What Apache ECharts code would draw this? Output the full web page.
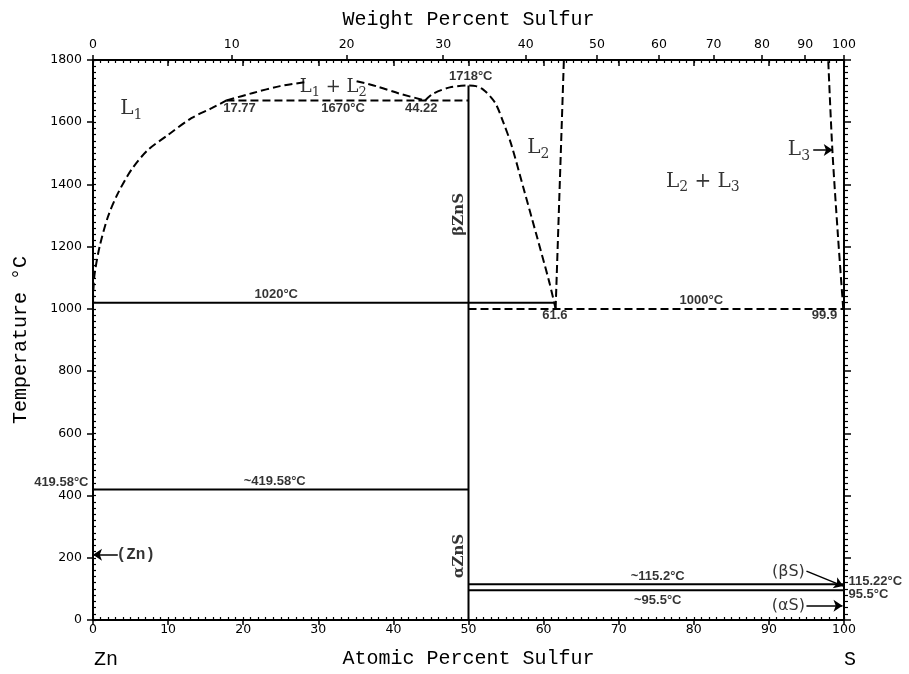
<!DOCTYPE html>
<html><head><meta charset="utf-8">
<script src="https://cdn.jsdelivr.net/npm/echarts@6/dist/echarts.min.js"></script>
<style>html,body{margin:0;padding:0;background:#fff}#c{width:909px;height:674px}</style>
</head><body><div id="c"></div>
<script>
// ---- values (x = atomic % S, y = temperature °C) ----
const weightTicks = [0, 10, 20, 30, 40, 50, 60, 70, 80, 90, 100];
const liquidusL1 = [[0,1020],[0.05,1062],[0.23,1115],[0.89,1201],[2.0,1297],[3.33,1372],[5.11,1447],[7.32,1511],[9.99,1559],[13.1,1613],[15.8,1645],[17.77,1670]];
const gapLeft = [[17.77,1670],[21.3,1694],[24.9,1716],[28.6,1730]];
const gapRight = [[35.1,1732],[37.7,1716],[40.8,1692],[44.22,1670]];
const liquidusL2 = [[44.22,1670],[45.3,1692],[47.5,1712],[50,1718],[51,1716],[52,1704],[53,1680],[53.7,1656],[54.6,1602],[55.7,1528],[57.3,1390],[59,1242],[60.8,1082],[61.6,1000]];
const boundaryL2 = [[61.6,1000],[62.7,1800]];
const boundaryL3 = [[99.9,1000],[99.2,1233],[98.45,1511],[97.9,1800]];
const monotectic1670 = [[17.77,1670],[50,1670]];
const monotectic1020 = [[0,1020],[61.4,1020]];
const monotectic1000 = [[50,1000],[100,1000]];
const eutectic419 = [[0,419.58],[50,419.58]];
const line115 = [[50,115.2],[100,115.2]];
const line95 = [[50,95.5],[100,95.5]];
const znsLine = [[50,0],[50,1718]];
const arrows = [[[3.3,210],[0,210]], [[95.0,157],[99.9,109]], [[95.0,46],[99.8,46]], [[95.9,1511],[98.5,1511]]];
const valueLabels = [
  ['17.77', 19.5, 1645], ['1670°C', 33.3, 1645], ['44.22', 43.7, 1645], ['1718°C', 50.3, 1748],
  ['1020°C', 24.4, 1047], ['61.6', 61.5, 978], ['1000°C', 81.0, 1026], ['99.9', 97.4, 978],
  ['~419.58°C', 24.2, 447], ['~115.2°C', 75.2, 139], ['~95.5°C', 75.2, 64]
];
const leftEdgeLabels = [['419.58°C', 0, 441]];
const rightEdgeLabels = [['115.22°C', 100, 123], ['95.5°C', 100, 83]];
const regionLabels = [['L1', 5.1, 1642], ['L2', 59.3, 1517], ['L2 + L3', 81.2, 1409], ['L3', 94.0, 1511]];
const smallRegionLabels = [['L1 + L2', 32.0, 1712]];
const phaseLabels = [['βZnS', 48.7, 1304], ['αZnS', 48.7, 206]];
const znLabels = [['(Zn)', 5.7, 210]];
const sideLabels = [['(βS)', 92.6, 154], ['(αS)', 92.6, 46]];

// ---- conversion weight % -> atomic % for the top axis ----
const M_S = 32.06, M_ZN = 65.38;
const wToA = w => (w / M_S) / (w / M_S + (100 - w) / M_ZN) * 100;
const aToW = a => (a * M_S) / (a * M_S + (100 - a) * M_ZN) * 100;
const weightPositions = weightTicks.map(wToA);

const black = '#000';
const tickFont = {fontFamily: 'DejaVu Sans', fontSize: 12.5, color: black};
const monoName = {fontFamily: 'Liberation Mono', fontSize: 20, color: black};

function lineSeries(data, dashed, smooth) {
  return {type: 'line', data: data, symbol: 'none', silent: true, animation: false,
    smooth: smooth ? 0.3 : false,
    lineStyle: {color: black, width: 2, type: dashed ? [8, 4] : 'solid'}, z: 3};
}
function toRich(t) {
  return t.split(/(L\d)/).filter(s => s).map(s => /^L\d$/.test(s) ? '{m|L}{s|' + s[1] + '}' : '{m|' + s + '}').join('');
}
function labelSeries(list, label, fmt) {
  return {type: 'scatter', symbolSize: 1, clip: false, silent: true, animation: false, z: 5,
    itemStyle: {color: 'transparent'},
    data: list.map(d => ({name: d[0], value: [d[1], d[2]]})),
    label: Object.assign({show: true, position: 'inside', color: black, textBorderWidth: 0,
      formatter: p => fmt ? fmt(p.name) : p.name}, label)};
}

const baseAxis = {type: 'value', min: 0, max: 100, splitLine: {show: false}};
const option = {
  backgroundColor: '#fff',
  grid: {left: 93, right: 65, top: 60, bottom: 52},
  xAxis: [
    Object.assign({}, baseAxis, {position: 'bottom', interval: 10,
      name: 'Atomic Percent Sulfur', nameLocation: 'middle', nameGap: 29, nameTextStyle: monoName,
      axisLine: {onZero: false, lineStyle: {color: black, width: 2}},
      axisTick: {inside: false, length: 5, lineStyle: {color: black, width: 1.5}},
      axisLabel: Object.assign({margin: 3}, tickFont)}),
    Object.assign({}, baseAxis, {position: 'bottom', interval: 1,
      axisLine: {show: false, onZero: false}, axisLabel: {show: false},
      axisTick: {inside: true, length: 3, lineStyle: {color: black, width: 1.2}}}),
    Object.assign({}, baseAxis, {position: 'top', interval: 1,
      axisLine: {show: true, onZero: false, lineStyle: {color: black, width: 2}}, axisLabel: {show: false},
      axisTick: {inside: true, length: 3, lineStyle: {color: black, width: 1.2}}}),
    Object.assign({}, baseAxis, {position: 'top', interval: 10,
      axisLine: {show: false, onZero: false}, axisLabel: {show: false},
      axisTick: {inside: true, length: 6, lineStyle: {color: black, width: 1.5}}}),
    Object.assign({}, baseAxis, {position: 'top',
      name: 'Weight Percent Sulfur', nameLocation: 'middle', nameGap: 30, nameTextStyle: monoName,
      axisLine: {show: false, onZero: false},
      axisTick: {inside: false, length: 5, customValues: weightPositions, lineStyle: {color: black, width: 1.5}},
      axisLabel: Object.assign({margin: 9, customValues: weightPositions,
        formatter: v => String(Math.round(aToW(v)))}, tickFont)})
  ],
  yAxis: [
    {type: 'value', position: 'left', min: 0, max: 1800, interval: 200, splitLine: {show: false},
      name: 'Temperature °C', nameLocation: 'middle', nameGap: 62, nameTextStyle: monoName,
      axisLine: {onZero: false, lineStyle: {color: black, width: 2}},
      axisTick: {inside: false, length: 6, lineStyle: {color: black, width: 1.5}},
      axisLabel: Object.assign({margin: 11, formatter: v => String(v)}, tickFont)},
    {type: 'value', position: 'left', min: 0, max: 1800, interval: 20, splitLine: {show: false},
      axisLine: {show: false, onZero: false}, axisLabel: {show: false},
      axisTick: {inside: true, length: 3, lineStyle: {color: black, width: 1.2}}},
    {type: 'value', position: 'right', min: 0, max: 1800, interval: 200, splitLine: {show: false},
      axisLine: {show: true, onZero: false, lineStyle: {color: black, width: 2}}, axisLabel: {show: false},
      axisTick: {inside: false, length: 7, lineStyle: {color: black, width: 1.5}},
      minorTick: {show: true, splitNumber: 10, length: 4, lineStyle: {color: black, width: 1.2}}}
  ],
  graphic: [
    {type: 'text', left: 94, top: 650, style: {text: 'Zn', font: '20px "Liberation Mono"', fill: black}},
    {type: 'text', left: 844, top: 650, style: {text: 'S', font: '20px "Liberation Mono"', fill: black}}
  ],
  series: [
    lineSeries(liquidusL1, true, true),
    lineSeries(gapLeft, true, true),
    lineSeries(gapRight, true, true),
    lineSeries(liquidusL2, true, true),
    lineSeries(boundaryL2, true, false),
    lineSeries(boundaryL3, true, true),
    lineSeries(monotectic1670, true, false),
    lineSeries(monotectic1000, true, false),
    lineSeries(monotectic1020, false, false),
    lineSeries(eutectic419, false, false),
    lineSeries(line115, false, false),
    lineSeries(line95, false, false),
    Object.assign(lineSeries(znsLine, false, false), {
      markLine: {silent: true, animation: false, symbol: ['none', 'arrow'], symbolSize: 9,
        label: {show: false}, lineStyle: {color: black, width: 1.5, type: 'solid'},
        data: arrows.map(a => [{coord: a[0]}, {coord: a[1]}])}
    }),
    labelSeries(valueLabels, {fontFamily: 'Liberation Sans', fontWeight: 'bold', fontSize: 13}),
    labelSeries(leftEdgeLabels, {position: 'left', distance: 4, fontFamily: 'Liberation Sans', fontWeight: 'bold', fontSize: 13}),
    labelSeries(rightEdgeLabels, {position: 'right', distance: 4, fontFamily: 'Liberation Sans', fontWeight: 'bold', fontSize: 13}),
    labelSeries(regionLabels, {rich: {m: {fontFamily: 'DejaVu Serif', fontSize: 20, color: black},
      s: {fontFamily: 'DejaVu Serif', fontSize: 14, color: black, padding: [12, 0, 0, 0]}}}, toRich),
    labelSeries(smallRegionLabels, {rich: {m: {fontFamily: 'DejaVu Serif', fontSize: 18, color: black},
      s: {fontFamily: 'DejaVu Serif', fontSize: 13, color: black, padding: [11, 0, 0, 0]}}}, toRich),
    labelSeries(phaseLabels, {rotate: 90, fontFamily: 'DejaVu Serif', fontWeight: 'bold', fontSize: 15}),
    labelSeries(znLabels, {fontFamily: 'Liberation Mono', fontWeight: 'bold', fontSize: 16}),
    labelSeries(sideLabels, {fontFamily: 'DejaVu Sans', fontSize: 16})
  ]
};
const chart = echarts.init(document.getElementById('c'), null, {renderer: 'canvas'});
chart.setOption(option);
</script>
</body></html>
